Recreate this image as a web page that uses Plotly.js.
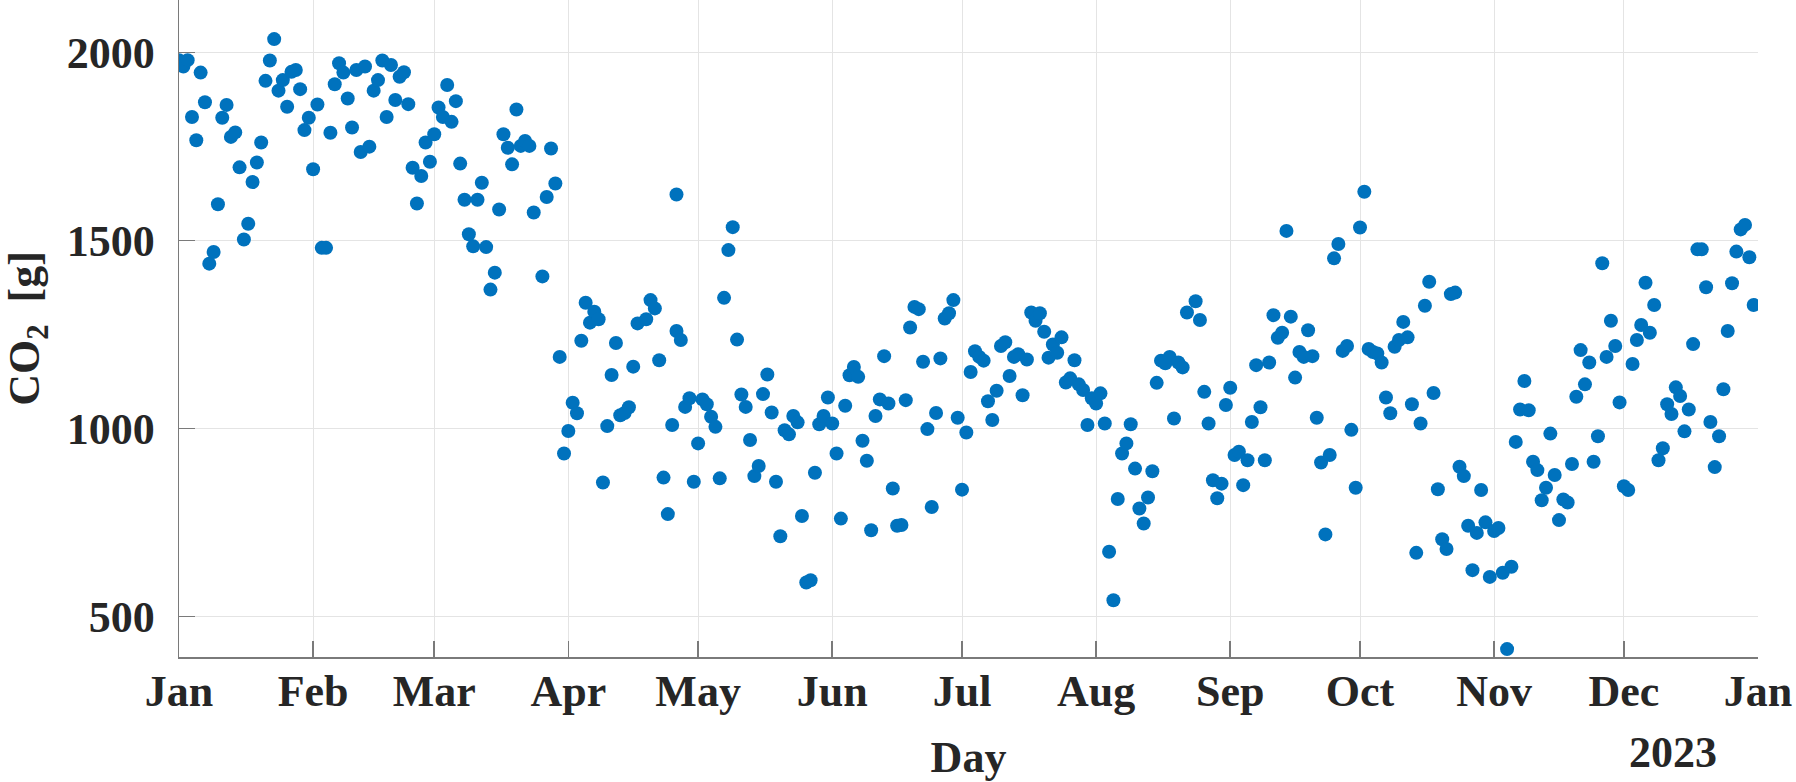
<!DOCTYPE html>
<html>
<head>
<meta charset="utf-8">
<script src="https://cdn.plot.ly/plotly-3.0.1.min.js"></script>
<style>
  html, body { margin: 0; padding: 0; background: #fff; }
  #chart { width: 1796px; height: 782px; }
</style>
</head>
<body>
<div id="chart"></div>
<script>
// day of year (0 = 1 Jan 2023) and daily CO2 in grams
var days = [
  0,1,2,3,4,5,6,7,8,9,10,11,12,13,14,15,16,17,18,19,
  20,21,22,23,24,25,26,27,28,29,30,31,32,33,34,35,36,37,38,39,
  40,41,42,43,44,45,46,47,48,49,50,51,52,53,54,55,56,57,58,59,
  60,61,62,63,64,65,66,67,68,69,70,71,72,73,74,75,76,77,78,79,
  80,81,82,84,85,86,87,88,89,90,91,92,93,94,95,96,97,98,99,
  100,101,102,103,104,105,106,108,109,110,111,112,113,114,115,115,116,117,118,119,
  120,121,122,123,124,125,126,127,128,129,130,131,132,133,134,135,136,137,138,139,
  140,141,142,143,144,145,146,147,148,149,150,151,152,153,154,155,156,157,158,159,
  160,161,162,163,164,165,166,167,168,169,170,171,172,173,174,175,176,177,178,179,
  180,181,182,183,184,185,186,187,188,189,190,191,192,193,194,195,196,197,198,199,
  200,201,202,203,204,205,206,207,208,209,210,211,212,213,214,215,216,217,218,219,
  220,221,222,223,224,225,226,227,228,229,230,231,232,233,235,236,237,238,239,
  240,241,242,243,244,245,246,247,248,249,250,251,252,253,254,255,256,257,258,259,
  260,261,262,263,264,265,266,267,268,269,270,271,272,273,274,275,276,277,278,279,
  280,281,282,283,284,285,286,287,288,289,290,291,292,293,294,295,296,297,298,299,
  300,301,302,303,304,305,306,307,308,309,310,311,312,313,314,315,316,317,318,319,
  320,321,322,323,324,325,326,327,328,329,330,331,332,333,334,335,336,337,338,339,
  340,341,342,343,344,345,346,347,348,349,350,351,352,353,354,355,356,357,358,359,
  360,361,362,363,364
];
var co2 = [
  1979,1962,1979,1828,1766,1946,1867,1438,1469,1596,1826,1860,1775,1787,1694,1502,1544,1655,1707,1760,
  1924,1978,2035,1898,1926,1855,1948,1953,1902,1793,1826,1689,1861,1480,1480,1786,1915,1971,1946,1877,
  1800,1953,1735,1962,1749,1898,1926,1978,1828,1966,1873,1935,1947,1862,1693,1598,1671,1760,1709,1782,
  1853,1828,1913,1815,1870,1704,1608,1516,1484,1608,1653,1482,1369,1414,1582,1782,1746,1702,1848,1751,
  1764,1751,1574,1404,1615,1744,1651,1190,933,993,1068,1040,1233,1334,1281,1310,1290,856,1006,
  1142,1227,1035,1041,1056,1164,1279,1290,1341,1319,1181,869,772,1009,1259,1622,1235,1057,1080,858,
  960,1077,1064,1031,1004,867,1347,1474,1535,1236,1090,1057,969,873,900,1091,1143,1042,858,713,
  995,984,1033,1016,767,590,596,882,1011,1033,1082,1013,933,760,1060,1141,1163,1137,967,914,
  729,1033,1077,1192,1066,840,741,743,1075,1268,1323,1317,1177,998,791,1041,1186,1292,1306,1341,
  1028,837,989,1150,1205,1190,1180,1072,1022,1100,1219,1229,1139,1190,1197,1088,1183,1308,1286,1306,
  1257,1188,1223,1201,1242,1122,1133,1181,1117,1102,1009,1080,1066,1093,1013,672,543,812,933,960,
  1011,893,787,747,816,886,1121,1180,1173,1190,1026,1175,1162,1308,1338,1288,1097,1013,862,
  814,853,1062,1108,929,938,849,915,1017,1168,1056,915,1175,1301,1241,1254,1525,1297,1135,1203,
  1190,1261,1192,1028,909,718,929,1452,1490,1206,1219,996,842,1534,1629,1211,1203,1199,1175,1082,
  1040,1217,1235,1283,1242,1064,669,1013,1326,1390,1094,838,705,679,1357,1361,898,873,741,623,
  722,836,750,605,727,735,616,413,632,964,1050,1126,1048,911,889,809,842,986,876,756,
  811,803,905,1084,1208,1117,1175,911,979,1439,1190,1286,1219,1069,846,836,1171,1235,1275,1387,
  1254,1328,915,947,1064,1038,1109,1086,992,1050,1224,1476,1476,1375,1017,897,979,1104,1259,1386,
  1470,1529,1541,1455,1328
];
var yTicks = [500, 1000, 1500, 2000];
var yearLabel = '2023';

// turn day numbers into ISO dates for the date axis
var dates = days.map(function (d) {
  return new Date(Date.UTC(2023, 0, 1 + d)).toISOString().slice(0, 10);
});

var fontFam = '"Liberation Serif", "Times New Roman", serif';
var ink = '#262626';

var points = {
  x: dates,
  y: co2,
  mode: 'markers',
  type: 'scatter',
  marker: { color: '#0072BD', size: 14, line: { width: 0 } },
  showlegend: false,
  hoverinfo: 'x+y'
};

var layout = {
  width: 1796,
  height: 782,
  margin: { l: 179, r: 38, t: 0, b: 125, pad: 0 },
  paper_bgcolor: '#ffffff',
  plot_bgcolor: '#ffffff',
  font: { family: fontFam, size: 44, color: ink, weight: 700 },
  showlegend: false,
  xaxis: {
    type: 'date',
    range: ['2023-01-01', '2024-01-01'],
    tick0: '2023-01-01',
    dtick: 'M1',
    tickformat: '%b',
    ticks: 'inside',
    ticklen: 16,
    tickcolor: '#7a7a7a',
    tickwidth: 1.5,
    showline: true,
    linecolor: '#7a7a7a',
    linewidth: 1.5,
    showgrid: true,
    gridcolor: '#e4e4e4',
    gridwidth: 1,
    zeroline: false,
    ticklabelstandoff: -5,
    tickfont: { family: fontFam, size: 44, color: ink, weight: 700 },
    title: { text: 'Day', standoff: 26, font: { family: fontFam, size: 44, color: ink, weight: 700 } },
    fixedrange: true
  },
  yaxis: {
    range: [392, 2139],
    tickvals: yTicks,
    ticktext: yTicks.map(String),
    ticks: 'inside',
    ticklen: 16,
    tickcolor: '#7a7a7a',
    tickwidth: 1.5,
    showline: true,
    linecolor: '#7a7a7a',
    linewidth: 1.5,
    showgrid: true,
    gridcolor: '#e4e4e4',
    gridwidth: 1,
    zeroline: false,
    ticklabelstandoff: 14,
    tickfont: { family: fontFam, size: 44, color: ink, weight: 700 },
    title: { text: 'CO<sub>2</sub>  [g]', standoff: 30, font: { family: fontFam, size: 44, color: ink, weight: 700 } },
    fixedrange: true
  },
  annotations: [{
    text: yearLabel,
    xref: 'paper', yref: 'paper',
    x: (1673 - 179) / (1796 - 179 - 38), y: -0.145,
    xanchor: 'center', yanchor: 'middle',
    showarrow: false,
    font: { family: fontFam, size: 44, color: ink, weight: 700 }
  }]
};

Plotly.newPlot('chart', [points], layout, { staticPlot: true, displayModeBar: false });
</script>
</body>
</html>
